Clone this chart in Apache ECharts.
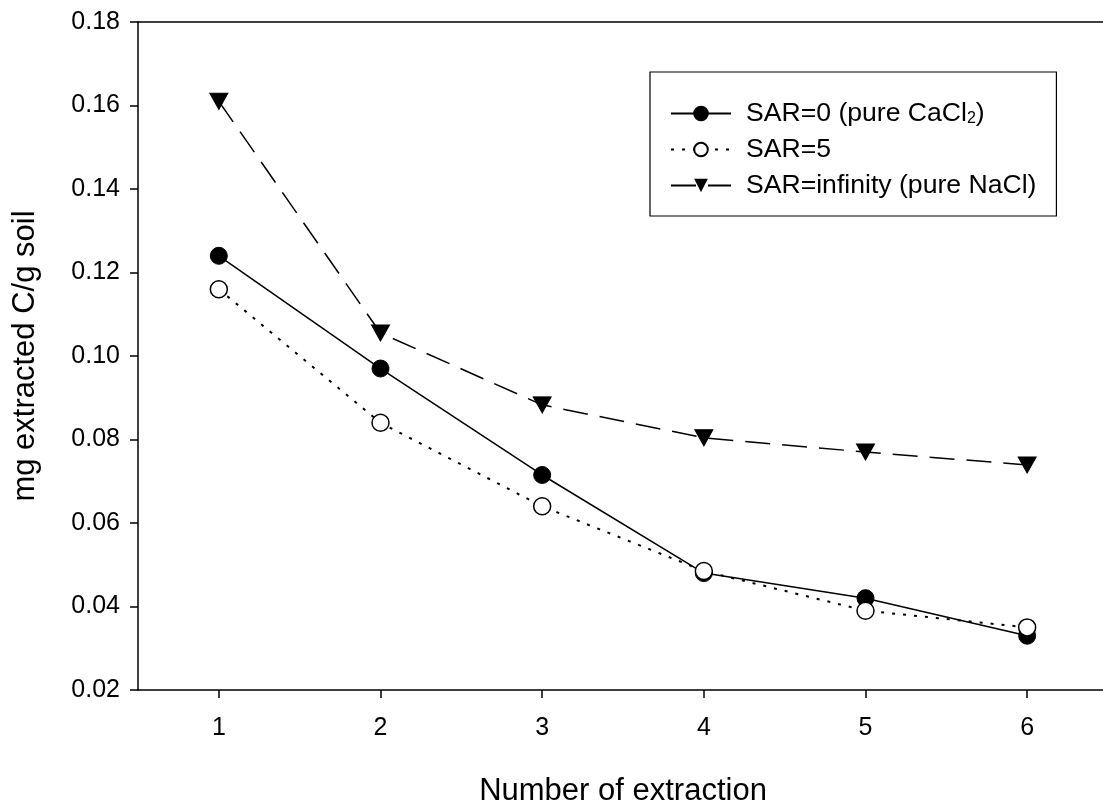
<!DOCTYPE html>
<html>
<head>
<meta charset="utf-8">
<script src="https://cdn.jsdelivr.net/npm/echarts@6/dist/echarts.min.js"></script>
<style>
    html, body { margin: 0; padding: 0; background: #fff; }
    #main { width: 1103px; height: 811px; }
</style>
</head>
<body>
<div id="main"></div>
<script>
// data
const extraction = [1, 2, 3, 4, 5, 6];
const sar0 = [0.124, 0.097, 0.0715, 0.048, 0.042, 0.033];
const sar5 = [0.116, 0.084, 0.064, 0.0485, 0.039, 0.035];
const sarInf = [0.161, 0.1055, 0.0883, 0.0804, 0.077, 0.0739];
const yTicks = [0.02, 0.04, 0.06, 0.08, 0.10, 0.12, 0.14, 0.16, 0.18];

const font = "Liberation Sans, Arial, sans-serif";

function pairs(vals) {
    return extraction.map((x, i) => [x, vals[i]]);
}

let chart = echarts.init(document.getElementById("main"));

let options = {
    animation: false,
    backgroundColor: "#fff",
    grid: { left: 138, right: -5, top: 22, bottom: 121, outerBoundsMode: "none", containLabel: false },
    legend: {
        left: 650,
        top: 72,
        orient: "vertical",
        padding: [28, 20, 17, 20],
        itemGap: 9,
        itemWidth: 60,
        itemHeight: 17,
        borderColor: "#000",
        borderWidth: 1.2,
        borderRadius: 0,
        textStyle: {
            fontFamily: font,
            fontSize: 26.6,
            color: "#000",
            padding: [0, 0, 0, 10],
            rich: {
                sub: { fontSize: 16, verticalAlign: "bottom", padding: [10, 0, 0, 0], fontFamily: font, color: "#000" },
                n: { fontSize: 26.6, fontFamily: font, color: "#000" }
            }
        },
        formatter: function (name) {
            if (name === "SAR=0 (pure CaCl2)") {
                return "{n|SAR=0 (pure CaCl}{sub|2}{n|)}";
            }
            return name;
        },
        data: ["SAR=0 (pure CaCl2)", "SAR=5", "SAR=infinity (pure NaCl)"]
    },
    xAxis: [
        {
            type: "value",
            min: 0.5,
            max: 6.5,
            name: "Number of extraction",
            nameLocation: "middle",
            nameGap: 86,
            nameTextStyle: { fontFamily: font, fontSize: 31, color: "#000" },
            axisLine: { onZero: false, lineStyle: { color: "#000", width: 1.5 } },
            axisTick: { length: 8, customValues: extraction, lineStyle: { color: "#000", width: 1.5 } },
            axisLabel: {
                fontFamily: font,
                fontSize: 25,
                color: "#000",
                margin: 26,
                customValues: extraction
            },
            splitLine: { show: false }
        },
        {
            type: "value",
            position: "top",
            min: 0.5,
            max: 6.5,
            axisLine: { onZero: false, lineStyle: { color: "#000", width: 1.5 } },
            axisTick: { show: false },
            axisLabel: { show: false },
            splitLine: { show: false }
        }
    ],
    yAxis: {
        type: "value",
        min: yTicks[0],
        max: yTicks[yTicks.length - 1],
        interval: 0.02,
        name: "mg extracted C/g soil",
        nameLocation: "middle",
        nameGap: 97,
        nameTextStyle: { fontFamily: font, fontSize: 31, color: "#000" },
        axisLine: { show: true, lineStyle: { color: "#000", width: 1.5 } },
        axisTick: { show: true, length: 8, lineStyle: { color: "#000", width: 1.5 } },
        axisLabel: {
            fontFamily: font,
            fontSize: 25,
            color: "#000",
            margin: 18,
            formatter: (v) => v.toFixed(2)
        },
        splitLine: { show: false }
    },
    series: [
        {
            name: "SAR=0 (pure CaCl2)",
            type: "line",
            data: pairs(sar0),
            symbol: "circle",
            symbolSize: 17,
            itemStyle: { color: "#000", borderColor: "#000", borderWidth: 1 },
            lineStyle: { color: "#000", width: 1.5, type: "solid" },
            z: 3
        },
        {
            name: "SAR=5",
            type: "line",
            data: pairs(sar5),
            symbol: "circle",
            symbolSize: 17,
            itemStyle: { color: "#fff", borderColor: "#000", borderWidth: 1.5 },
            lineStyle: { color: "#000", width: 2, type: [3, 8] },
            z: 4
        },
        {
            name: "SAR=infinity (pure NaCl)",
            type: "line",
            data: pairs(sarInf),
            symbol: "triangle",
            symbolRotate: 180,
            symbolSize: [18, 16],
            itemStyle: { color: "#000", borderColor: "#000" },
            lineStyle: { color: "#000", width: 1.5, type: [25, 12] },
            z: 3
        }
    ]
};

chart.setOption(options);
</script>
</body>
</html>
